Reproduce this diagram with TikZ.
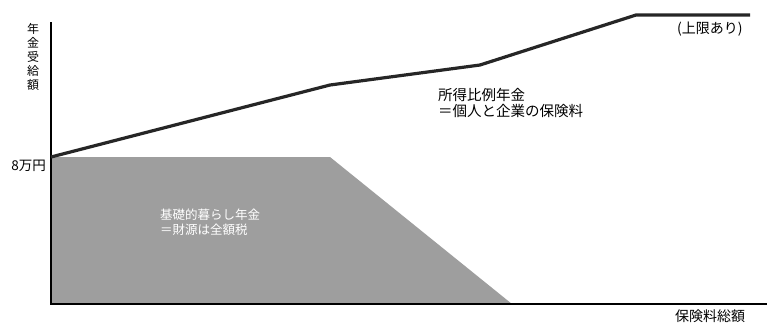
\documentclass[tikz,border=0pt]{standalone}
\usepackage{fontspec}
\newfontfamily\jp{Noto Sans CJK JP}
\begin{document}
\begin{tikzpicture}[x=1bp,y=-1bp,
  lbl/.style={font=\jp\fontsize{13.5bp}{16bp}\selectfont, inner sep=0pt, align=left},
  axis/.style={draw=black, line width=1.3bp},
  curve/.style={draw=black!85, line width=3.2bp, line join=round},
  base/.style={fill=black!38, draw=none}]
\useasboundingbox (0,0) rectangle (767,327);
% coordinates
\coordinate (O) at (51,304);
\coordinate (Ytop) at (51,22);
\coordinate (Xend) at (767,304);
\coordinate (B0) at (51,157);
\coordinate (B1) at (330,157);
\coordinate (B2) at (512,304);
\coordinate (P1) at (330,85);
\coordinate (P2) at (480,65);
\coordinate (P3) at (636,15);
\coordinate (P4) at (750,15);
% basic pension area
\path[base] (B0) -- (B1) -- (B2) -- (O) -- cycle;
% axes
\draw[axis] (Ytop) -- (O) -- (Xend);
% earnings-related line
\draw[curve] (B0) -- (P1) -- (P2) -- (P3) -- (P4);
% labels
\node[lbl, align=center, font=\jp\fontsize{12bp}{14bp}\selectfont] (ylab) at (33,57) {年\\金\\受\\給\\額};
\node[lbl, anchor=east] (eight) at (46,166) {8万円};
\node[lbl, text=white, anchor=north west, font=\jp\fontsize{12.5bp}{15bp}\selectfont] (basic) at (160,209) {基礎的暮らし年金\\＝財源は全額税};
\node[lbl, anchor=north west, font=\jp\fontsize{14.5bp}{16bp}\selectfont] (earn) at (438,88) {所得比例年金\\＝個人と企業の保険料};
\node[lbl, anchor=north west, font=\jp\fontsize{14bp}{16bp}\selectfont] (cap) at (677,22) {(上限あり)};
\node[lbl, anchor=north west, font=\jp\fontsize{14bp}{16bp}\selectfont] (xlab) at (675,310) {保険料総額};
\end{tikzpicture}
\end{document}
